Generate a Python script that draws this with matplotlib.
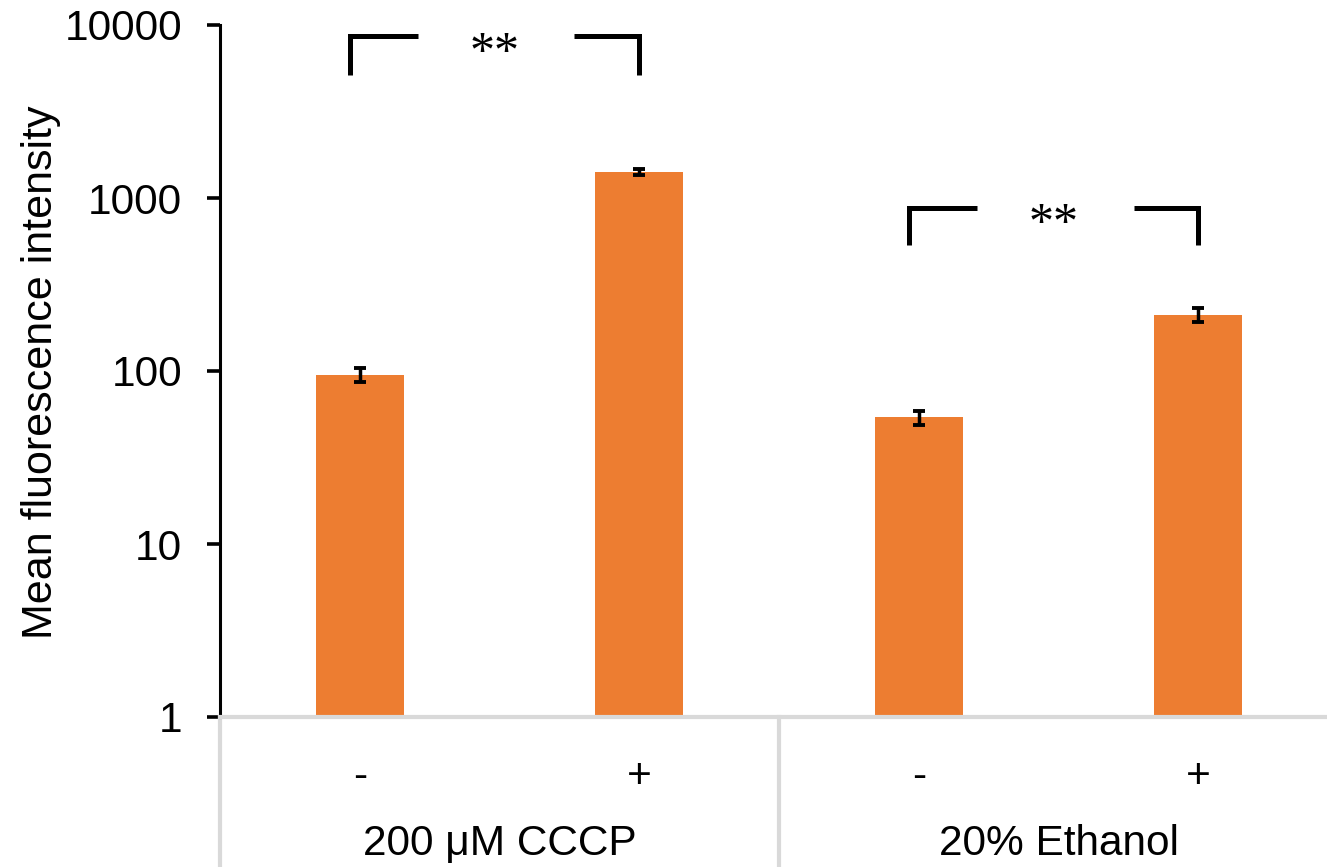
import matplotlib
matplotlib.use("Agg")
import matplotlib.pyplot as plt
import matplotlib.transforms as mtransforms
import numpy as np

# Data
sub_labels = ["-", "+", "-", "+"]
group_labels = ["200 μM CCCP", "20% Ethanol"]
values = [95, 1413, 54, 211]
errors = [9, 60, 5, 20]
yticks = [1, 10, 100, 1000, 10000]
ytick_labels = ["1", "10", "100", "1000", "10000"]
sig_pairs = [(0, 1), (2, 3)]
sig_text = ["**", "**"]
sig_heights = [(5150, 8630), (535, 880)]

W, H = 1327, 867
fig = plt.figure(figsize=(W / 100, H / 100), dpi=100)
ax = fig.add_axes([220 / W, (H - 717) / H, (W - 220) / W, (717 - 25) / H])

x = np.arange(len(values))
ax.bar(x, values, width=0.315, color="#ED7D31", zorder=2)
ax.errorbar(x, values, yerr=errors, fmt="none", ecolor="black",
            elinewidth=2.5, capsize=4.3, capthick=2.8, zorder=3)

ax.set_yscale("log")
ax.set_ylim(1, 10000)
ax.set_xlim(-0.5, 3.46)
ax.set_yticks(yticks)
ax.set_yticklabels(ytick_labels)
ax.yaxis.set_minor_locator(matplotlib.ticker.NullLocator())
ax.set_xticks([])

font = "Liberation Sans"
fs = 30.5
for lab in ax.get_yticklabels():
    lab.set_fontfamily(font)
    lab.set_fontsize(fs)
ax.tick_params(axis="y", direction="out", length=9.4, width=2.6, pad=18, color="black")

for s in ["top", "right"]:
    ax.spines[s].set_visible(False)
ax.spines["left"].set_linewidth(2.2)
ax.spines["left"].set_color("black")
ax.spines["bottom"].set_linewidth(3)
ax.spines["bottom"].set_color("#d9d9d9")

fig.text(52 / W, 1 - 372 / H, "Mean fluorescence intensity", rotation=90,
         rotation_mode="anchor", ha="center", va="baseline",
         fontfamily=font, fontsize=31)

# Category axis below
trans = mtransforms.blended_transform_factory(ax.transData, ax.transAxes)
for sx in [-0.5, 1.5, 3.5]:
    ax.plot([sx, sx], [0, -0.22], color="#d9d9d9", lw=3, transform=trans, clip_on=False)
for xi, lab in zip(x, sub_labels):
    ax.text(xi, -0.086, lab, transform=trans, ha="center", va="center",
            fontfamily=font, fontsize=fs)
for gi, lab in enumerate(group_labels):
    ax.text(gi * 2 + 0.5, -(855 - 717) / 692, lab, transform=trans, ha="center",
            va="baseline", fontfamily=font, fontsize=fs)

# Significance brackets
for (a, b), txt, (ylo, yhi) in zip(sig_pairs, sig_text, sig_heights):
    left = a - 0.036
    ax.plot([left, left, left + 0.243], [ylo, yhi, yhi], color="black", lw=3.6,
            solid_capstyle="butt", solid_joinstyle="miter", clip_on=False)
    ax.plot([b - 0.232, b, b], [yhi, yhi, ylo], color="black", lw=3.6,
            solid_capstyle="butt", solid_joinstyle="miter", clip_on=False)
    ax.text((left + b) / 2, yhi * 0.675, txt, ha="center", va="baseline",
            fontfamily="Liberation Serif", fontsize=36)

fig.savefig("out.png", dpi=100)
